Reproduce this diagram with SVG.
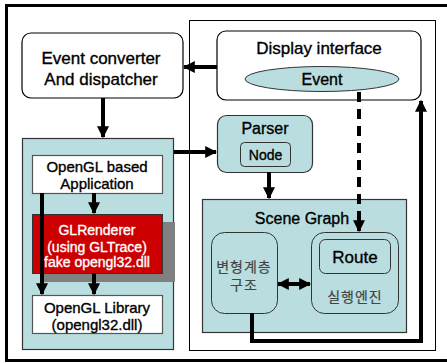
<svg xmlns="http://www.w3.org/2000/svg" width="447" height="363" viewBox="0 0 447 363">
<defs>
<style>
text{font-family:"Liberation Sans","Noto Sans CJK KR",Arial,sans-serif;fill:#000;text-anchor:middle;stroke:#000;stroke-width:0.35}
.w{fill:#fff;stroke:#fff}
.box{fill:#fff;stroke:#000;stroke-width:1.2}
.blue{fill:#badee0;stroke:#333;stroke-width:1.2}
.wbox{fill:#fff;stroke:#555;stroke-width:1.2}
.thick{fill:none;stroke:#000;stroke-width:4}
.kr{fill:#444;stroke:#444;stroke-width:0.2;font-size:14px;letter-spacing:1px}
</style>
<marker id="ah" viewBox="0 0 10 10" refX="9" refY="5" markerWidth="3" markerHeight="3" orient="auto-start-reverse" markerUnits="strokeWidth"><path d="M0,0L10,5L0,10z" fill="#000"/></marker>
</defs>
<rect x="0" y="0" width="447" height="363" fill="#fff"/>
<rect x="6.5" y="5.5" width="450" height="355" fill="none" stroke="#000" stroke-width="3"/>
<rect x="189.5" y="20.5" width="246" height="330" fill="none" stroke="#000" stroke-width="1"/>

<g id="event-converter">
<rect class="box" x="22" y="33" width="161" height="65" rx="9"/>
<text x="101" y="64" font-size="17">Event converter</text>
<text x="101" y="85" font-size="17">And dispatcher</text>
</g>

<g id="display-interface">
<rect class="box" x="217" y="31" width="204" height="69" rx="9"/>
<text x="319" y="54" font-size="17">Display interface</text>
<ellipse cx="322" cy="79" rx="77" ry="12.5" fill="#badee0" stroke="#333" stroke-width="1"/>
<text x="322" y="85" font-size="16">Event</text>
</g>

<g id="gl-panel">
<rect class="blue" x="22.5" y="138.5" width="151" height="211"/>
</g>

<g id="opengl-app">
<rect class="wbox" x="32.5" y="155.5" width="130" height="38"/>
<text x="97" y="172" font-size="15">OpenGL based</text>
<text x="97" y="189" font-size="15">Application</text>
</g>

<g id="glrenderer">
<rect x="44" y="222" width="131" height="60" fill="#808080"/>
<rect x="32.5" y="214.5" width="130" height="59" fill="#cc0000" stroke="#333" stroke-width="1"/>
<text class="w" x="97" y="235" font-size="14">GLRenderer</text>
<text class="w" x="97" y="252" font-size="14">(using GLTrace)</text>
<text class="w" x="97" y="267" font-size="14">fake opengl32.dll</text>
</g>

<g id="opengl-library">
<rect class="wbox" x="32.5" y="295.5" width="130" height="38"/>
<text x="97" y="313" font-size="15">OpenGL Library</text>
<text x="97" y="330" font-size="15">(opengl32.dll)</text>
</g>

<g id="parser">
<rect class="blue" x="217.5" y="115.5" width="95" height="57" rx="9"/>
<text x="265" y="134" font-size="16">Parser</text>
<rect x="240.5" y="142.5" width="50" height="24" rx="4" fill="#badee0" stroke="#333" stroke-width="1"/>
<text x="265.5" y="160" font-size="14">Node</text>
</g>

<g id="scene-graph">
<rect class="blue" x="202.5" y="199.5" width="204" height="133"/>
<text x="302" y="224" font-size="16">Scene Graph</text>
</g>

<g id="hierarchy">
<rect x="211.5" y="232.5" width="66" height="81" rx="13" fill="none" stroke="#333" stroke-width="1"/>
<text class="kr" x="244" y="272">변형계층</text>
<text class="kr" x="244" y="290">구조</text>
</g>

<g id="engine">
<rect x="311.5" y="232.5" width="87" height="81" rx="13" fill="none" stroke="#333" stroke-width="1"/>
<rect x="319.5" y="239.5" width="71" height="34" rx="6" fill="none" stroke="#333" stroke-width="1"/>
<text x="355" y="263" font-size="17" stroke-width="0.6">Route</text>
<text class="kr" x="355" y="302">실행엔진</text>
</g>

<g id="connectors">
<line class="thick" x1="217" y1="67" x2="184" y2="67" stroke-width="3" marker-end="url(#ah)"/>
<line class="thick" x1="103" y1="98" x2="103" y2="137" stroke-width="3" marker-end="url(#ah)"/>
<line class="thick" x1="174" y1="152" x2="216" y2="152" stroke-width="3" marker-end="url(#ah)"/>
<line class="thick" x1="269" y1="172" x2="269" y2="198" stroke-width="3" marker-end="url(#ah)"/>
<line class="thick" x1="359" y1="92" x2="359" y2="231" stroke-width="4" stroke-dasharray="10,7" marker-end="url(#ah)"/>
<line class="thick" x1="42" y1="193" x2="42" y2="294" stroke-width="3" marker-end="url(#ah)"/>
<line class="thick" x1="94" y1="193" x2="94" y2="213" stroke-width="3" marker-end="url(#ah)"/>
<line class="thick" x1="94" y1="273" x2="94" y2="294" stroke-width="3" marker-end="url(#ah)"/>
<line class="thick" x1="278" y1="284" x2="310" y2="284" stroke-width="2.5" marker-start="url(#ah)" marker-end="url(#ah)"/>
<polyline class="thick" points="252,313 252,341 421,341 421,101" marker-end="url(#ah)"/>
</g>
</svg>
